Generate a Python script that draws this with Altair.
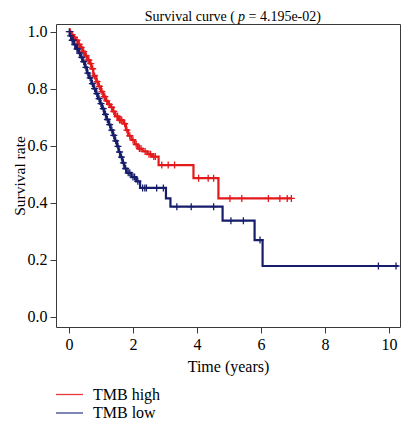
import altair as alt
import pandas as pd

groups = ["TMB high", "TMB low"]
colors = ["#e3191c", "#161d6b"]
legend_colors = ["#e8383b", "#3a4390"]

# Kaplan-Meier step points (time in years, survival)
high_t = [0, 0.05, 0.12, 0.2, 0.28, 0.35, 0.42, 0.5, 0.58, 0.65, 0.7, 0.76, 0.85, 0.92,
          1.0, 1.07, 1.15, 1.22, 1.3, 1.37, 1.44, 1.55, 1.7, 1.78, 1.85, 1.95, 2.05, 2.15,
          2.3, 2.45, 2.6, 2.8, 3.89, 4.67, 6.96]
high_s = [1.0, 0.99, 0.98, 0.97, 0.955, 0.945, 0.93, 0.915, 0.9, 0.888, 0.87, 0.845, 0.825, 0.808,
          0.79, 0.772, 0.757, 0.745, 0.735, 0.72, 0.703, 0.69, 0.677, 0.655, 0.635, 0.62, 0.605, 0.59,
          0.58, 0.57, 0.562, 0.532, 0.486, 0.415, 0.415]

low_t = [0, 0.03, 0.08, 0.15, 0.22, 0.3, 0.36, 0.42, 0.5, 0.56, 0.62, 0.7, 0.77, 0.84, 0.9, 0.97,
         1.03, 1.1, 1.17, 1.24, 1.3, 1.37, 1.43, 1.5, 1.55, 1.6, 1.67, 1.73, 1.8, 1.95, 2.1, 2.22,
         3.03, 3.17, 4.8, 5.8, 6.05, 10.29]
low_s = [1.0, 0.985, 0.97, 0.955, 0.94, 0.925, 0.91, 0.895, 0.875, 0.855, 0.838, 0.818, 0.8, 0.783, 0.765, 0.748,
         0.73, 0.71, 0.692, 0.674, 0.655, 0.636, 0.617, 0.598, 0.578, 0.56, 0.54, 0.52, 0.505, 0.49, 0.475, 0.452,
         0.415, 0.386, 0.337, 0.269, 0.178, 0.178]

# censor marks
high_ct = [0.04, 0.1, 0.17, 0.25, 0.32, 0.38, 0.46, 0.54, 0.6, 0.62, 0.68, 0.74, 0.8, 0.88, 0.95,
           1.03, 1.1, 1.12, 1.18, 1.26, 1.33, 1.4, 1.5, 1.52, 1.58, 1.62, 1.65, 1.74, 1.81, 1.9,
           2.0, 2.1, 2.2, 2.25, 2.38, 2.5, 2.55, 2.65, 2.7, 2.9, 3.1, 3.3, 4.05, 4.35, 4.52,
           5.03, 5.4, 6.23, 6.59, 6.82, 6.95]
high_cs = [1.0, 0.99, 0.98, 0.97, 0.955, 0.945, 0.93, 0.915, 0.9, 0.9, 0.888, 0.87, 0.845, 0.825, 0.808,
           0.79, 0.772, 0.772, 0.757, 0.745, 0.735, 0.72, 0.703, 0.703, 0.69, 0.69, 0.69, 0.677, 0.655, 0.635,
           0.62, 0.605, 0.59, 0.59, 0.58, 0.57, 0.57, 0.562, 0.562, 0.532, 0.532, 0.532, 0.486, 0.486, 0.486,
           0.415, 0.415, 0.415, 0.415, 0.415, 0.415]

low_ct = [0.01, 0.05, 0.1, 0.13, 0.18, 0.25, 0.27, 0.33, 0.4, 0.46, 0.53, 0.59, 0.66, 0.73, 0.8, 0.87, 0.94,
          1.0, 1.07, 1.14, 1.2, 1.27, 1.34, 1.4, 1.46, 1.53, 1.58, 1.64, 1.7, 1.77, 1.85, 1.9, 2.0, 2.05,
          2.15, 2.3, 2.37, 2.42, 2.74, 2.95, 3.37, 3.82, 4.52, 5.06, 5.45, 5.97, 9.67, 10.22]
low_cs = [1.0, 0.985, 0.97, 0.97, 0.955, 0.94, 0.94, 0.925, 0.91, 0.895, 0.875, 0.855, 0.838, 0.818, 0.8, 0.783, 0.765,
          0.748, 0.73, 0.71, 0.692, 0.674, 0.655, 0.636, 0.617, 0.598, 0.578, 0.56, 0.54, 0.52, 0.505, 0.505, 0.49, 0.49,
          0.475, 0.452, 0.452, 0.452, 0.452, 0.452, 0.386, 0.386, 0.386, 0.337, 0.337, 0.269, 0.178, 0.178]

x_ticks = [0, 2, 4, 6, 8, 10]
y_ticks = [0.0, 0.2, 0.4, 0.6, 0.8, 1.0]
title_parts = ["Survival curve (", "p", "= 4.195e-02)"]

FONT = "Liberation Serif"

steps = pd.DataFrame({
    "time": high_t + low_t,
    "surv": high_s + low_s,
    "group": [groups[0]] * len(high_t) + [groups[1]] * len(low_t),
})
cens_high = pd.DataFrame({"time": high_ct, "surv": high_cs, "group": groups[0]})
cens_low = pd.DataFrame({"time": low_ct, "surv": low_cs, "group": groups[1]})

W, H = 344, 303
xscale = alt.Scale(domain=[-0.406, 10.344], nice=False, zero=False)
yscale = alt.Scale(domain=[-0.036, 1.027], nice=False, zero=False)

X = alt.X("time:Q", scale=xscale,
          axis=alt.Axis(values=x_ticks, title="Time (years)", format="d",
                        labelPadding=3, titlePadding=6))
Y = alt.Y("surv:Q", scale=yscale,
          axis=alt.Axis(values=y_ticks, title="Survival rate", format=".1f",
                        labelPadding=3, titlePadding=0, titleFontSize=15.5))
C = alt.Color("group:N", scale=alt.Scale(domain=groups, range=colors), legend=None)

lines = alt.Chart(steps).mark_line(interpolate="step-after", strokeWidth=2.2).encode(x=X, y=Y, color=C)

cross = "M-1,0H1M0,-1V1"
pts_high = alt.Chart(cens_high).mark_point(shape=cross, filled=False, size=49, strokeWidth=1.3,
                                           opacity=1).encode(x=X, y=Y, color=C)
pts_low = alt.Chart(cens_low).mark_point(shape=cross, filled=False, size=49, strokeWidth=1.3,
                                         opacity=1).encode(x=X, y=Y, color=C)

one = alt.Data(values=[{"k": 0}])
TY = -3.5
TFS = 14
t1 = alt.Chart(one).mark_text(align="right", baseline="alphabetic", font=FONT, fontSize=TFS,
                              color="black").encode(x=alt.value(179), y=alt.value(TY),
                                                    text=alt.value(title_parts[0]))
t2 = alt.Chart(one).mark_text(align="left", baseline="alphabetic", font=FONT, fontSize=TFS,
                              fontStyle="italic", color="black").encode(x=alt.value(182), y=alt.value(TY),
                                                                        text=alt.value(title_parts[1]))
t3 = alt.Chart(one).mark_text(align="left", baseline="alphabetic", font=FONT, fontSize=TFS,
                              color="black").encode(x=alt.value(192.5), y=alt.value(TY),
                                                    text=alt.value(title_parts[2]))

# legend drawn below the plot
legend_layers = []
row_y = [370.5, 389]
for i, g in enumerate(groups):
    legend_layers.append(
        alt.Chart(one).mark_rule(color=legend_colors[i], strokeWidth=1.3).encode(
            x=alt.value(0), x2=alt.value(27), y=alt.value(row_y[i]))
    )
    legend_layers.append(
        alt.Chart(one).mark_text(align="left", baseline="middle", font=FONT, fontSize=16,
                                 color="black").encode(
            x=alt.value(37), y=alt.value(row_y[i]), text=alt.value(g))
    )

chart = alt.layer(lines, pts_high, pts_low, t1, t2, t3, *legend_layers).properties(
    width=W, height=H,
    autosize=alt.AutoSizeParams(type="none"),
    padding={"left": 48, "top": 16, "right": 1, "bottom": 95},
).configure_view(
    stroke="#3a3a3a", strokeWidth=1
).configure_axis(
    grid=False, domain=False, tickColor="#3a3a3a", tickSize=6, tickWidth=1,
    labelFont=FONT, labelFontSize=16, labelColor="black",
    titleFont=FONT, titleFontSize=16, titleFontWeight="normal", titleColor="black",
)

chart.save("out.html", embed_options={"renderer": "svg", "actions": False})
